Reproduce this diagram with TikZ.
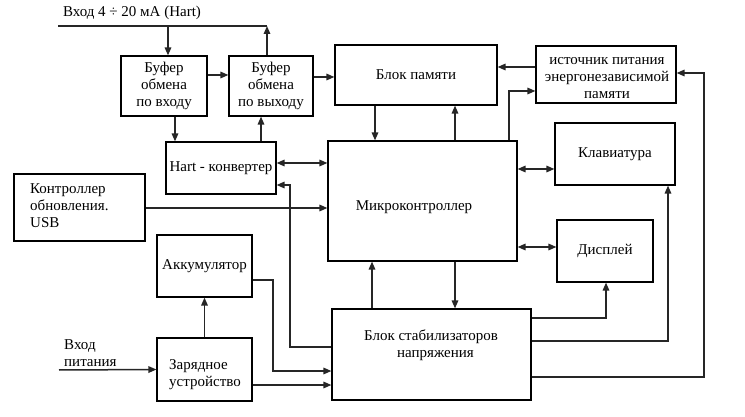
\documentclass[tikz,border=0pt]{standalone}
\usepackage{fontspec}
\setmainfont{Liberation Serif}
\usetikzlibrary{arrows.meta}

\tikzset{
  box/.style={draw, line width=1.1pt, inner sep=2pt, align=center},
  wire/.style={line width=1.5pt, draw=black!85},
  arr/.style={wire, -{Triangle[length=8pt,width=6.5pt]}},
  darr/.style={wire, {Triangle[length=8pt,width=6.5pt]}-{Triangle[length=8pt,width=6.5pt]}},
}

\begin{document}
\begin{tikzpicture}[x=1pt, y=-1pt, font=\fontsize{15}{17}\selectfont]
    \useasboundingbox (0,0) rectangle (745,417);

    % --- Blocks ---
    \node[box, minimum width=86pt, minimum height=60pt] (buf1) at (164,86) {Буфер\\обмена\\по входу};
    \node[box, minimum width=84pt, minimum height=60pt] (buf2) at (271,86) {Буфер\\обмена\\по выходу};
    \node[box, minimum width=162pt, minimum height=60pt] (mem) at (416,75) {Блок памяти};
    \node[box, minimum width=140pt, minimum height=57pt] (src) at (606,74.5) {};
    \node[align=center, inner sep=0pt] (srctxt) at (607,78.5) {источник питания\\энергонезависимой\\памяти};
    \node[box, minimum width=110pt, minimum height=52pt] (hart) at (221,168) {Hart - конвертер};
    \node[box, minimum width=189pt, minimum height=120pt] (mcu) at (422.5,201) {};
    \node[inner sep=0pt] (mcutxt) at (414,207) {Микроконтроллер};
    \node[box, minimum width=131pt, minimum height=67pt] (usb) at (79.5,207.5) {};
    \node[align=left, anchor=west, inner sep=0pt] (usbtxt) at (30,206) {Контроллер\\обновления.\\USB};
    \node[box, minimum width=120pt, minimum height=62pt] (kbd) at (615,154) {Клавиатура};
    \node[box, minimum width=96pt, minimum height=62pt] (disp) at (605,251) {Дисплей};
    \node[box, minimum width=95pt, minimum height=62pt] (acc) at (204.5,266) {Аккумулятор};
    \node[box, minimum width=95pt, minimum height=63pt] (chg) at (204.5,369.5) {};
    \node[align=left, anchor=west, inner sep=0pt] (chgtxt) at (169,374.5) {Зарядное\\устройство};
    \node[box, minimum width=199pt, minimum height=91pt] (stab) at (431.5,354.5) {};
    \node[align=center, inner sep=0pt] (stabtxt) at (431,345.5) {Блок стабилизаторов\\\hspace*{0.6em}напряжения};

    % --- Inputs ---
    \node[inner sep=0pt] (hartin) at (132,13) {Вход 4 ÷ 20 мА (Hart)};
    \node[align=left, anchor=west, inner sep=0pt] (pwrin) at (64,353) {Вход\\питания};
    \coordinate (hin) at (58,26);
    \coordinate (hend) at (267,26);
    \coordinate (pin) at (59,370);

    % --- Hart line and buffers ---
    \draw[wire] (hin) -- (hend);
    \draw[arr] (168,26) -- (buf1.north -| 168,0);
    \draw[arr] (buf2.north -| 267,0) -- (hend);
    \draw[arr] (buf1.east |- 0,75) -- (buf2.west |- 0,75);
    \draw[arr] (buf2.east |- 0,77) -- (mem.west |- 0,77);
    \draw[arr] (buf1.south -| 175,0) -- (hart.north -| 175,0);
    \draw[arr] (hart.north -| 261,0) -- (buf2.south -| 261,0);

    % --- Memory ---
    \draw[arr] (src.west |- 0,67) -- (mem.east |- 0,67);
    \draw[arr] (mcu.north -| 509,0) |- (src.west |- 0,91);
    \draw[arr] (mem.south -| 375,0) -- (mcu.north -| 375,0);
    \draw[arr] (mcu.north -| 455,0) -- (mem.south -| 455,0);

    % --- Microcontroller links ---
    \draw[darr] (hart.east |- 0,163) -- (mcu.west |- 0,163);
    \draw[arr] (usb.east |- 0,208) -- (mcu.west |- 0,208);
    \draw[darr] (mcu.east |- 0,169) -- (kbd.west |- 0,169);
    \draw[darr] (mcu.east |- 0,247) -- (disp.west |- 0,247);

    % --- Power ---
    \draw[arr] (pin) -- (chg.west);
    \draw[arr] (chg.north) -- (acc.south);
    \draw[arr] (acc.east |- 0,280) -| (273,371) -- (stab.west |- 0,371);
    \draw[arr] (chg.east |- 0,385) -- (stab.west |- 0,385);
    \draw[arr] (stab.west |- 0,347) -| (290,185) -- (hart.east |- 0,185);
    \draw[arr] (stab.north -| 372,0) -- (mcu.south -| 372,0);
    \draw[arr] (mcu.south -| 455,0) -- (stab.north -| 455,0);
    \draw[arr] (stab.east |- 0,318) -| (disp.south -| 606,0);
    \draw[arr] (stab.east |- 0,341) -| (kbd.south -| 668,0);
    \draw[arr] (stab.east |- 0,377) -| (704,73) -- (src.east |- 0,73);
\end{tikzpicture}
\end{document}
